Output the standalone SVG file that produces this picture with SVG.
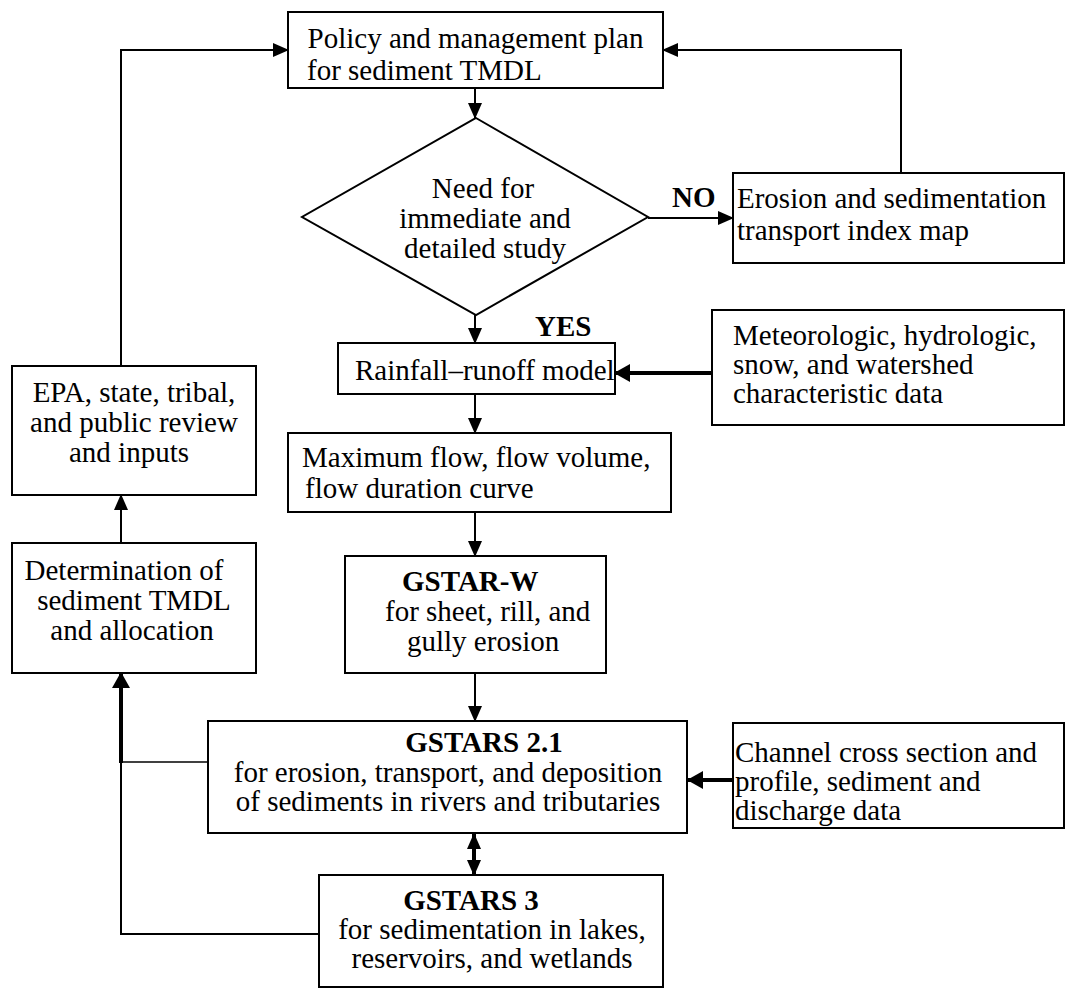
<svg xmlns="http://www.w3.org/2000/svg" width="1067" height="992" viewBox="0 0 1067 992">
<style>
.bx{fill:#fff;stroke:#000;stroke-width:2}
.t{font-family:"Liberation Serif","Times New Roman",serif;font-size:29px;fill:#000}
.b{font-weight:bold}
.m{text-anchor:middle}
.c{fill:none;stroke:#000;stroke-width:2}
.k{fill:none;stroke:#000;stroke-width:4}
.n{fill:none;stroke:#000;stroke-width:1.3}
</style>
<defs>
<marker id="a" markerUnits="userSpaceOnUse" markerWidth="16" markerHeight="14" refX="15" refY="7" orient="auto-start-reverse"><path d="M0,0 L16,7 L0,14 z" fill="#000"/></marker>
<marker id="ab" markerUnits="userSpaceOnUse" markerWidth="16" markerHeight="18" refX="15" refY="9" orient="auto"><path d="M0,0 L16,9 L0,18 z" fill="#000"/></marker>
</defs>
<rect width="1067" height="992" fill="#fff"/>
<g id="connectors">
<line class="c" x1="475" y1="88" x2="475" y2="118" marker-end="url(#a)"/>
<line class="c" x1="648" y1="218" x2="733" y2="218" marker-end="url(#a)"/>
<polyline class="c" points="901,173 901,50 663,50" marker-end="url(#a)"/>
<line class="c" x1="475" y1="315" x2="475" y2="343" marker-end="url(#a)"/>
<line class="k" x1="712" y1="373" x2="615" y2="373" marker-end="url(#ab)"/>
<line class="c" x1="475" y1="394" x2="475" y2="433" marker-end="url(#a)"/>
<line class="c" x1="475" y1="512" x2="475" y2="556" marker-end="url(#a)"/>
<line class="c" x1="475" y1="673" x2="475" y2="721" marker-end="url(#a)"/>
<line class="k" x1="733" y1="780" x2="688" y2="780" marker-end="url(#ab)"/>
<line class="k" x1="474" y1="834" x2="474" y2="875" marker-start="url(#a)" marker-end="url(#a)"/>
<polyline class="c" points="319,934 121,934 121,762"/>
<line class="n" x1="208" y1="762" x2="121" y2="762"/>
<line class="k" x1="121" y1="763" x2="121" y2="673" marker-end="url(#ab)"/>
<line class="c" x1="121" y1="543" x2="121" y2="495" marker-end="url(#a)"/>
<polyline class="c" points="121,366 121,50 288,50" marker-end="url(#a)"/>
</g>
<g id="policy">
<rect class="bx" x="288" y="12" width="375" height="76"/>
<text class="t m" x="475.5" y="48">Policy and management plan</text>
<text class="t" x="307" y="80">for sediment TMDL</text>
</g>
<g id="decision">
<polygon class="bx" points="476,118 648,217 476,315 302,217"/>
<text class="t m" x="483" y="198">Need for</text>
<text class="t m" x="485" y="228">immediate and</text>
<text class="t m" x="485" y="258">detailed study</text>
<text class="t b" x="672" y="207">NO</text>
<text class="t b" x="535" y="336">YES</text>
</g>
<g id="erosion-map">
<rect class="bx" x="733" y="173" width="331" height="90"/>
<text class="t" x="737" y="208">Erosion and sedimentation</text>
<text class="t" x="737" y="240">transport index map</text>
</g>
<g id="rainfall">
<rect class="bx" x="338" y="343" width="277" height="51"/>
<text class="t" x="355" y="380">Rainfall–runoff model</text>
</g>
<g id="meteorologic">
<rect class="bx" x="712" y="310" width="352" height="115"/>
<text class="t" x="733" y="345">Meteorologic, hydrologic,</text>
<text class="t" x="733" y="374">snow, and watershed</text>
<text class="t" x="733" y="403">characteristic data</text>
</g>
<g id="maxflow">
<rect class="bx" x="288" y="433" width="383" height="79"/>
<text class="t" x="302" y="467">Maximum flow, flow volume,</text>
<text class="t" x="305" y="498">flow duration curve</text>
</g>
<g id="gstarw">
<rect class="bx" x="345" y="556" width="261" height="117"/>
<text class="t b" x="402" y="591">GSTAR-W</text>
<text class="t" x="385" y="621">for sheet, rill, and</text>
<text class="t" x="407" y="651">gully erosion</text>
</g>
<g id="gstars21">
<rect class="bx" x="208" y="721" width="479" height="112"/>
<text class="t b m" x="484" y="752">GSTARS 2.1</text>
<text class="t m" x="448" y="782">for erosion, transport, and deposition</text>
<text class="t m" x="448" y="811">of sediments in rivers and tributaries</text>
</g>
<g id="channel">
<rect class="bx" x="733" y="723" width="331" height="105"/>
<text class="t" x="735" y="762">Channel cross section and</text>
<text class="t" x="735" y="791">profile, sediment and</text>
<text class="t" x="735" y="820">discharge data</text>
</g>
<g id="gstars3">
<rect class="bx" x="319" y="875" width="344" height="112"/>
<text class="t b m" x="471" y="910">GSTARS 3</text>
<text class="t m" x="492" y="939">for sedimentation in lakes,</text>
<text class="t m" x="492" y="968">reservoirs, and wetlands</text>
</g>
<g id="review">
<rect class="bx" x="12" y="366" width="244" height="129"/>
<text class="t m" x="134" y="402">EPA, state, tribal,</text>
<text class="t m" x="134" y="432">and public review</text>
<text class="t m" x="129" y="462">and inputs</text>
</g>
<g id="tmdl">
<rect class="bx" x="12" y="543" width="244" height="130"/>
<text class="t m" x="124" y="580">Determination of</text>
<text class="t m" x="134" y="610">sediment TMDL</text>
<text class="t m" x="132" y="640">and allocation</text>
</g>
</svg>
